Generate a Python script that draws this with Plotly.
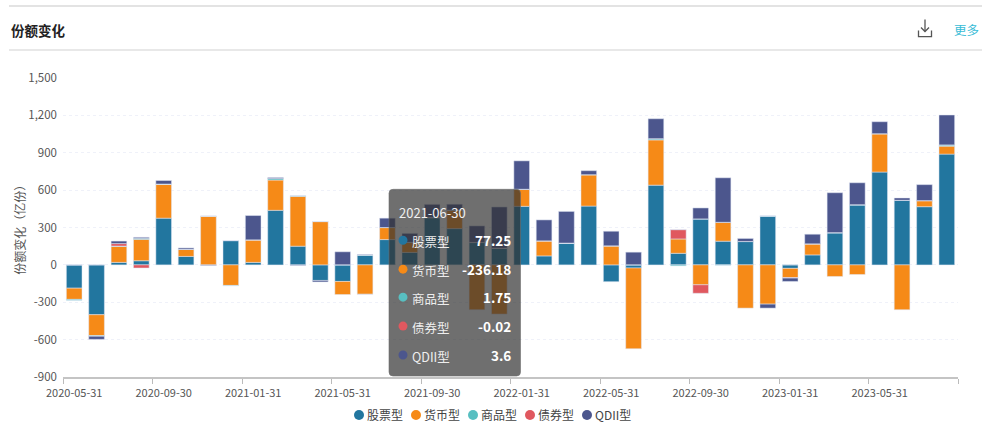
import plotly.graph_objects as go

W, H = 992, 424
FONT = "Noto Sans CJK SC, Noto Sans, sans-serif"

months = ["2020-05-31","2020-06-30","2020-07-31","2020-08-31","2020-09-30","2020-10-31","2020-11-30","2020-12-31",
          "2021-01-31","2021-02-28","2021-03-31","2021-04-30","2021-05-31","2021-06-30","2021-07-31","2021-08-31",
          "2021-09-30","2021-10-31","2021-11-30","2021-12-31","2022-01-31","2022-02-28","2022-03-31","2022-04-30",
          "2022-05-31","2022-06-30","2022-07-31","2022-08-31","2022-09-30","2022-10-31","2022-11-30","2022-12-31",
          "2023-01-31","2023-02-28","2023-03-31","2023-04-30","2023-05-31","2023-06-30","2023-07-31","2023-08-31"]
stock = [-187,-400,20,33,375,68,0,195,20,438,150,-125,-133,77.25,203,100,379,291,179,133,
         470,72,174,472,-135,-25,640,93,368,190,187,390,-28,80,256,480,745,518,467,889]
money = [-90,-168,128,172,272,56,390,-165,180,243,400,347,-105,-236.18,96,80,0,147,-360,-395,
         136,120,0,251,152,-648,363,115,-160,152,-347,-315,-75,88,-93,-77,307,-360,48,64]
commodity = [-8,-5,3,8,2,2,1,-3,1,12,5,1,1,1.75,1,1,1,1,1,1,
             1,1,1,1,1,1,10,-8,1,-3,1,3,1,1,3,3,1,1,1,10]
bond = [0,0,20,-25,0,0,0,0,0,0,0,0,0,-0.02,0,0,0,0,0,0,
        0,0,0,0,0,0,0,75,-68,0,0,0,-3,0,0,0,0,0,0,0]
qdii = [0,-25,20,8,28,10,-5,0,195,8,-5,-12,104,3.6,75,72,106,48,133,331,
        228,168,254,32,117,101,160,0,88,357,24,-32,-27,77,320,176,96,18,128,240]

series_names = ["股票型","货币型","商品型","债券型","QDII型"]
series_values = [stock, money, commodity, bond, qdii]
series_colors = ["#22769f","#f68a17","#58bfc1","#e0585f","#4c568d"]

y_ticks = [-900,-600,-300,0,300,600,900,1200,1500]
y_labels = ["-900","-600","-300","0","300","600","900","1,200","1,500"]
y_title = "份额变化（亿份）"
title = "份额变化"
more = "更多"
tip_date = "2021-06-30"
tip_values = ["77.25","-236.18","1.75","-0.02","3.6"]

L, R, T, B = 63, 958, 77.5, 377
fx = lambda px: (px - L) / (R - L)
fy = lambda py: (B - py) / (B - T)

fig = go.Figure()
for name, vals, color in zip(series_names, series_values, series_colors):
    fig.add_trace(go.Bar(name=name, x=months, y=vals, marker=dict(color=color, line=dict(color="rgba(225,232,245,0.5)", width=1)),
                         showlegend=False, hoverinfo="skip"))

shapes, ann = [], []

def text(px, py, s, size=12, color="#666", anchor="left", bold=False, angle=0):
    ann.append(dict(xref="paper", yref="paper", x=fx(px), y=fy(py), text=f"<b>{s}</b>" if bold else s,
                    showarrow=False, xanchor=anchor, yanchor="middle", textangle=angle, align=anchor,
                    font=dict(family=FONT, size=size, color=color)))

def rect(x0, y0, x1, y1, color):
    shapes.append(dict(type="rect", xref="paper", yref="paper", x0=fx(x0), x1=fx(x1), y0=fy(y0), y1=fy(y1),
                       fillcolor=color, line=dict(width=0), layer="above"))

def circle(cx, cy, r, color):
    shapes.append(dict(type="circle", xref="paper", yref="paper", x0=fx(cx-r), x1=fx(cx+r), y0=fy(cy-r), y1=fy(cy+r),
                       fillcolor=color, line=dict(width=0), layer="above"))

def path(points, color="#555", fill="rgba(0,0,0,0)", width=1.3, closed=False):
    d = ""
    for i, (px, py) in enumerate(points):
        d += ("M" if i == 0 else "L") + f"{fx(px)},{fy(py)}"
    if closed:
        d += "Z"
    shapes.append(dict(type="path", xref="paper", yref="paper", path=d, fillcolor=fill,
                       line=dict(color=color, width=width), layer="above"))

# header
rect(9, 4.5, 982, 6.5, "#e3e3e3")
rect(9, 48.5, 982, 50.5, "#e8e8e8")
text(8.5, 29.5, title, size=13.5, color="#222", bold=True)
text(951.5, 29, more, size=12.5, color="#39bcd6")
path([(925, 19), (925, 31)])
path([(921, 27), (925, 31), (929, 27)])
path([(918.5, 30), (918.5, 36), (931.5, 36), (931.5, 30)])

# y axis title
text(19.5, 227, y_title, size=12, color="#555", anchor="center", angle=-90)

# legend
for cx, name, color in zip([359, 416, 473, 530, 587], series_names, series_colors):
    circle(cx, 415, 5, color)
    text(cx + 6, 415, name, size=12, color="#444")

# tooltip
X0, X1, Y0, Y1, r = 389, 520.5, 189, 376, 4
d = (f"M{fx(X0+r)},{fy(Y0)} L{fx(X1-r)},{fy(Y0)} Q{fx(X1)},{fy(Y0)} {fx(X1)},{fy(Y0+r)} "
     f"L{fx(X1)},{fy(Y1-r)} Q{fx(X1)},{fy(Y1)} {fx(X1-r)},{fy(Y1)} L{fx(X0+r)},{fy(Y1)} "
     f"Q{fx(X0)},{fy(Y1)} {fx(X0)},{fy(Y1-r)} L{fx(X0)},{fy(Y0+r)} Q{fx(X0)},{fy(Y0)} {fx(X0+r)},{fy(Y0)} Z")
shapes.append(dict(type="path", xref="paper", yref="paper", path=d, fillcolor="rgba(50,50,50,0.7)",
                   line=dict(color="rgba(110,110,110,0.6)", width=1), layer="above"))
text(396.5, 212, tip_date, size=13, color="#f0f0f0")
for py, name, val, color in zip([240, 269, 297, 326, 355], series_names, tip_values, series_colors):
    circle(403, py, 4.5, color)
    text(410, py + 1, name, size=12.5, color="#eeeeee")
    text(513, py, val, size=13.5, color="#ffffff", anchor="right", bold=True)

fig.update_layout(
    width=W, height=H, autosize=False, barmode="relative", bargap=0.3,
    margin=dict(l=L, r=W-R, t=T, b=H-B, autoexpand=False),
    paper_bgcolor="white", plot_bgcolor="white",
    font=dict(family=FONT, size=11, color="#666"),
    shapes=shapes, annotations=ann,
    xaxis=dict(type="category", categoryorder="array", categoryarray=months, tickson="boundaries",
               tickmode="linear", tick0=0, dtick=4, ticks="outside", ticklen=5, tickwidth=1, tickcolor="#bbb",
               showline=True, linecolor="#c4c4c4", linewidth=2, showgrid=False, zeroline=False,
               tickangle=0, ticklabelstandoff=5, tickfont=dict(size=11, color="#555")),
    yaxis=dict(range=[-900, 1500], tickmode="array", tickvals=y_ticks, ticktext=y_labels, showline=False,
               showgrid=True, gridcolor="#eff1f9", griddash="dot", gridwidth=1, zeroline=False, ticks="",
               ticklabelstandoff=5, tickfont=dict(size=11.5, color="#555")),
)

fig.write_html("out.html", config={"displayModeBar": False},
               post_script="document.body.style.margin='0';document.body.style.overflow='hidden';")
